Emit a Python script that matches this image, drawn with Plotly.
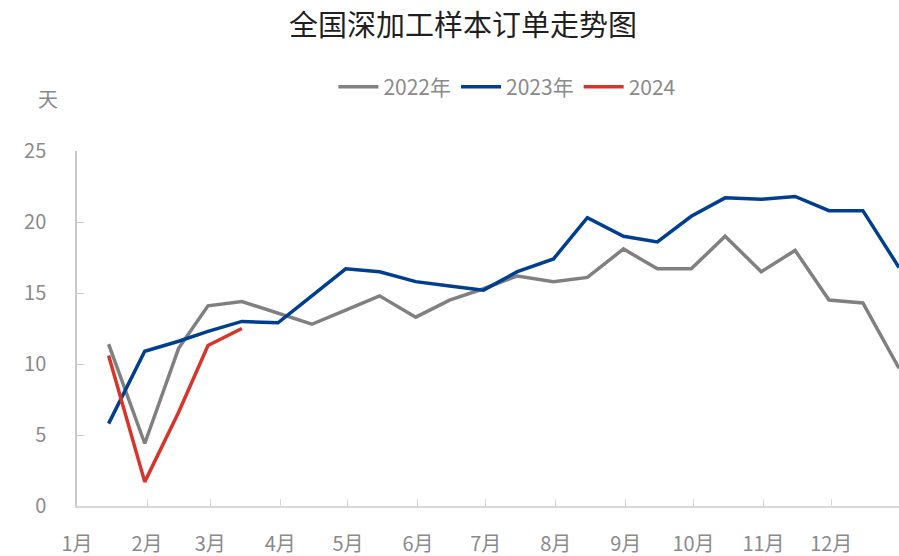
import calendar
import plotly.graph_objects as go

# ---- data ----
month_labels = ["1月", "2月", "3月", "4月", "5月", "6月", "7月", "8月", "9月", "10月", "11月", "12月"]
# half-month observation dates (mid-month and month-end) on a common seasonal year
dates = []
for m in range(1, 13):
    dates.append(f"2023-{m:02d}-15")
    dates.append(f"2023-{m:02d}-{calendar.monthrange(2023, m)[1]:02d}")

values_2022 = [11.4, 4.4, 11.1, 14.1, 14.4, 13.6, 12.8, 13.8, 14.8, 13.3, 14.5, 15.3,
               16.2, 15.8, 16.1, 18.1, 16.7, 16.7, 19.0, 16.5, 18.0, 14.5, 14.3, 9.7]
values_2023 = [5.8, 10.9, 11.6, 12.3, 13.0, 12.9, 14.8, 16.7, 16.5, 15.8, 15.5, 15.2,
               16.5, 17.4, 20.3, 19.0, 18.6, 20.4, 21.7, 21.6, 21.8, 20.8, 20.8, 16.8]
values_2024 = [10.6, 1.7, 6.6, 11.3, 12.5]

series_names = ["2022年", "2023年", "2024"]
series_colors = ["#808080", "#003e8f", "#d7342a"]

FONT = "Noto Sans CJK SC, Microsoft YaHei, sans-serif"
GRAY_TXT = "#8a8a8a"

W, H = 899, 556

fig = go.Figure()
for name, vals, col in zip(series_names, [values_2022, values_2023, values_2024], series_colors):
    fig.add_trace(go.Scatter(
        x=dates[:len(vals)], y=vals, mode="lines", name=name,
        line=dict(color=col, width=3.5),
    ))

fig.update_layout(
    width=W, height=H,
    margin=dict(l=77, r=0, t=151, b=50),
    paper_bgcolor="white", plot_bgcolor="white",
    font=dict(family=FONT, color=GRAY_TXT, size=20),
    title=dict(text="全国深加工样本订单走势图", x=0.515, xanchor="center", y=0.953, yanchor="middle",
               font=dict(family=FONT, size=29, color="#1f1f1f")),
    showlegend=True,
    legend=dict(orientation="h", x=0.523, xanchor="center", y=0.8435, yref="container",
                yanchor="middle", font=dict(family=FONT, size=21, color=GRAY_TXT),
                traceorder="normal", itemwidth=40,
                bgcolor="rgba(0,0,0,0)"),
    annotations=[dict(text="天", xref="paper", yref="paper", x=-0.0353, y=1.0, yshift=53,
                      xanchor="center", yanchor="middle", showarrow=False,
                      font=dict(family=FONT, size=20, color=GRAY_TXT))],
)

tickvals = [f"2023-{m:02d}-01" for m in range(1, 13)]
fig.update_xaxes(
    type="date", range=["2023-01-01", "2023-12-31"],
    tickvals=tickvals, ticktext=month_labels,
    showgrid=False, zeroline=False,
    showline=True, linecolor="#d9d9d9", linewidth=1.5,
    ticks="inside", ticklen=7, tickcolor="#d9d9d9", tickwidth=1,
    tickfont=dict(family=FONT, size=20, color=GRAY_TXT),
    ticklabelstandoff=19,
)
fig.update_yaxes(
    range=[0, 25], tickvals=[0, 5, 10, 15, 20, 25],
    showgrid=False, zeroline=False,
    showline=True, linecolor="#c8c8c8", linewidth=1.5,
    ticks="inside", ticklen=7, tickcolor="#c8c8c8", tickwidth=1,
    tickfont=dict(family=FONT, size=20, color=GRAY_TXT),
    ticklabelstandoff=25,
)

fig.write_html(
    "out.html",
    config={"displayModeBar": False},
    post_script="document.body.style.margin='0';document.body.style.overflow='hidden';",
)
